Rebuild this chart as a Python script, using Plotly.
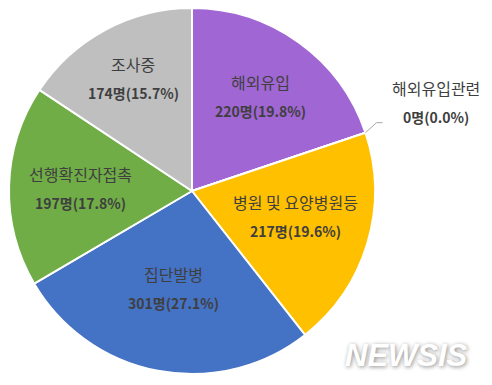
import math
import plotly.graph_objects as go

labels = ["해외유입", "해외유입관련", "병원 및 요양병원등", "집단발병", "선행확진자접촉", "조사중"]
values = [220, 0, 217, 301, 197, 174]
colors = ["#A066D3", "#ED7D31", "#FFC000", "#4472C4", "#70AD47", "#BFBFBF"]
label_r = [0.64, 0, 0.59, 0.54, 0.61, 0.68]
label_dy = [0, 0, -6, 0, 0, -3]

W, H = 492, 385
CX, CY, R = 192, 191, 183  # pixel centre/radius (top-left origin)

total = sum(values)
FONT = "Noto Sans CJK KR"
TXT = "#3F3F3F"

def px_to_paper(x, y):
    return x / W, 1 - y / H

def ann(x, y, text, size):
    px, py = px_to_paper(x, y)
    return dict(x=px, y=py, xref="paper", yref="paper", text=text, showarrow=False,
                xanchor="center", yanchor="middle",
                font=dict(family=FONT, size=size, color=TXT))

fig = go.Figure(go.Pie(
    labels=labels, values=values, sort=False, direction="clockwise", rotation=0,
    marker=dict(colors=colors, line=dict(color="white", width=2)),
    textinfo="none", hoverinfo="skip", showlegend=False,
    domain=dict(x=[(CX - R) / W, (CX + R) / W], y=[1 - (CY + R) / H, 1 - (CY - R) / H]),
))

annotations = []
shapes = []
cum = 0
for lab, v, rf, ddy in zip(labels, values, label_r, label_dy):
    mid = (cum + v / 2) / total * 2 * math.pi
    pct = v / total * 100
    if v > 0:
        x = CX + rf * R * math.sin(mid)
        y = CY - rf * R * math.cos(mid) + ddy
        annotations.append(ann(x, y - 14, lab, 16))
        annotations.append(ann(x, y + 15, f"<b>{v}명({pct:.1f}%)</b>", 14))
    else:
        # zero slice: outside label with leader line
        ex = CX + R * math.sin(mid)
        ey = CY - R * math.cos(mid)
        kx, ky = ex + 11, ey - 10
        tx, ty = kx + 6, ky
        p = [px_to_paper(*pt) for pt in [(ex, ey), (kx, ky), (tx, ty)]]
        shapes.append(dict(type="path", xref="paper", yref="paper",
                           path=f"M {p[0][0]} {p[0][1]} L {p[1][0]} {p[1][1]} L {p[2][0]} {p[2][1]}",
                           line=dict(color="#A6A6A6", width=1)))
        lx = tx + 54
        annotations.append(ann(lx, ky - 35, lab, 16))
        annotations.append(ann(lx, ky - 6, f"<b>{v}명({pct:.1f}%)</b>", 14))
    cum += v

annotations.append(dict(x=406 / W, y=1 - 355 / H, xref="paper", yref="paper", text="<b><i>NEWSIS</i></b>",
                        showarrow=False, xanchor="center", yanchor="middle",
                        font=dict(family="Liberation Sans", size=31, color="#FFFFFF",
                                  shadow="1px 1px 4px #8a8a8a")))

fig.update_layout(width=W, height=H, margin=dict(l=0, r=0, t=0, b=0),
                  paper_bgcolor="white", plot_bgcolor="white",
                  annotations=annotations, shapes=shapes)
fig.write_html("out.html")
